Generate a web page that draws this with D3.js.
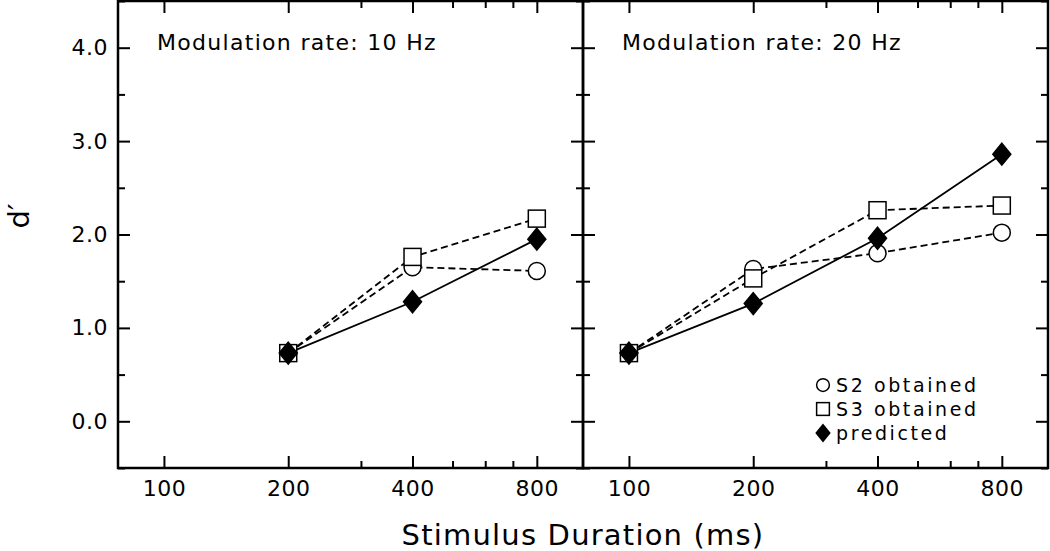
<!DOCTYPE html>
<html>
<head>
<meta charset="utf-8">
<script src="https://cdn.jsdelivr.net/npm/d3@7"></script>
<style>
  body { margin: 0; background: #fff; }
  text { font-family: 'DejaVu Sans', sans-serif; fill: #000; }
</style>
</head>
<body>
<div class="chart"></div>
<script>
// data
const durations10 = [200, 400, 800];
const s2Rate10 = [0.73, 1.65, 1.61];
const s3Rate10 = [0.73, 1.76, 2.17];
const predRate10 = [0.73, 1.28, 1.95];

const durations20 = [100, 200, 400, 800];
const s2Rate20 = [0.73, 1.63, 1.80, 2.02];
const s3Rate20 = [0.73, 1.53, 2.26, 2.31];
const predRate20 = [0.73, 1.26, 1.96, 2.86];

const panelTitles = ['Modulation rate: 10 Hz', 'Modulation rate: 20 Hz'];
const xMajorTicks = [100, 200, 400, 800];
const xMinorTicks = [300, 500, 600, 700];
const yMajorTicks = [0, 1, 2, 3, 4];
const yMinorTicks = [-0.5, 0.5, 1.5, 2.5, 3.5, 4.5];
const legendLabels = ['S2 obtained', 'S3 obtained', 'predicted'];

const width = 1050;
const height = 551;
const margin = { top: 1, left: 118, bottom: 83 };
const panelWidth = 465;
const graphHeight = height - margin.top - margin.bottom;

const svg = d3
  .select('.chart')
  .append('svg')
  .attr('width', width)
  .attr('height', height);

const x = d3.scaleLog().domain([77.4, 1035]).range([0, panelWidth]);
const y = d3.scaleLinear().domain([-0.5, 4.5]).range([graphHeight, 0]);

const symbols = {
  circle: (g) => g.append('circle').attr('r', 8.5),
  square: (g) => g.append('rect').attr('x', -8.5).attr('y', -8.5).attr('width', 17).attr('height', 17),
  diamond: (g) => g.append('path').attr('d', 'M0,-11L9,0L0,11L-9,0Z'),
};

const panels = [
  { durations: durations10, s2: s2Rate10, s3: s3Rate10, pred: predRate10 },
  { durations: durations20, s2: s2Rate20, s3: s3Rate20, pred: predRate20 },
];

panels.forEach((p, i) => {
  const graph = svg
    .append('g')
    .attr('transform', `translate(${margin.left + i * panelWidth}, ${margin.top})`);

  // axes, ticks all pointing inward
  const addAxis = (axis, tf, labels) => {
    const g = graph.append('g').attr('transform', tf).call(axis);
    g.select('.domain').remove();
    g.selectAll('line').attr('stroke', '#000').attr('stroke-width', 2);
    if (!labels) g.selectAll('text').remove();
    else g.selectAll('text').style('font-size', '22px').style('letter-spacing', '0.5px').attr('fill', '#000');
    return g;
  };

  addAxis(d3.axisBottom(x).tickValues(xMajorTicks).tickFormat(d3.format('d')).tickSize(-12).tickPadding(12),
    `translate(0, ${graphHeight})`, true);
  addAxis(d3.axisBottom(x).tickValues(xMinorTicks).tickSize(-7), `translate(0, ${graphHeight})`, false);
  addAxis(d3.axisTop(x).tickValues(xMajorTicks).tickSize(-12), 'translate(0, 0)', false);
  addAxis(d3.axisTop(x).tickValues(xMinorTicks).tickSize(-7), 'translate(0, 0)', false);

  addAxis(d3.axisLeft(y).tickValues(yMajorTicks).tickFormat(d3.format('.1f')).tickSize(-12).tickPadding(10),
    'translate(0, 0)', i === 0);
  addAxis(d3.axisLeft(y).tickValues(yMinorTicks).tickSize(-7), 'translate(0, 0)', false);
  addAxis(d3.axisRight(y).tickValues(yMajorTicks).tickSize(-12), `translate(${panelWidth}, 0)`, false);
  addAxis(d3.axisRight(y).tickValues(yMinorTicks).tickSize(-7), `translate(${panelWidth}, 0)`, false);

  graph
    .append('rect')
    .attr('width', panelWidth)
    .attr('height', graphHeight)
    .attr('fill', 'none')
    .attr('stroke', '#000')
    .attr('stroke-width', 2.5);

  graph
    .append('text')
    .attr('x', 39)
    .attr('y', 49)
    .style('font-size', '22px')
    .style('letter-spacing', '1.3px')
    .text(panelTitles[i]);

  const series = [
    { values: p.s2, dash: '7,4', shape: 'circle', fill: '#fff' },
    { values: p.s3, dash: '7,4', shape: 'square', fill: '#fff' },
    { values: p.pred, dash: null, shape: 'diamond', fill: '#000' },
  ];

  const line = d3
    .line()
    .x((d) => x(d[0]))
    .y((d) => y(d[1]));

  series.forEach((s) => {
    const pts = p.durations.map((d, j) => [d, s.values[j]]);
    graph
      .append('path')
      .datum(pts)
      .attr('d', line)
      .attr('fill', 'none')
      .attr('stroke', '#000')
      .attr('stroke-width', 1.8)
      .attr('stroke-dasharray', s.dash);
  });

  series.forEach((s) => {
    p.durations.forEach((d, j) => {
      const m = graph.append('g').attr('transform', `translate(${x(d)}, ${y(s.values[j])})`);
      symbols[s.shape](m).attr('fill', s.fill).attr('stroke', '#000').attr('stroke-width', 1.5);
    });
  });

  if (i === 1) {
    const legend = graph.append('g').attr('transform', 'translate(240, 384)');
    ['circle', 'square', 'diamond'].forEach((shape, k) => {
      const row = legend.append('g').attr('transform', `translate(0, ${k * 24})`);
      const m = row.append('g').attr('transform', 'scale(0.75)');
      symbols[shape](m)
        .attr('fill', shape === 'diamond' ? '#000' : '#fff')
        .attr('stroke', '#000')
        .attr('stroke-width', 2);
      row
        .append('text')
        .attr('x', 13)
        .attr('y', 7)
        .style('font-size', '19px')
        .style('letter-spacing', '2.6px')
        .text(legendLabels[k]);
    });
  }
});

svg
  .append('text')
  .attr('x', margin.left + panelWidth)
  .attr('y', 545)
  .attr('text-anchor', 'middle')
  .style('font-size', '29px')
  .style('letter-spacing', '1.2px')
  .text('Stimulus Duration (ms)');

svg
  .append('text')
  .attr('transform', 'translate(29, 216) rotate(-90)')
  .attr('text-anchor', 'middle')
  .style('font-size', '29px')
  .text('d′');
</script>
</body>
</html>
